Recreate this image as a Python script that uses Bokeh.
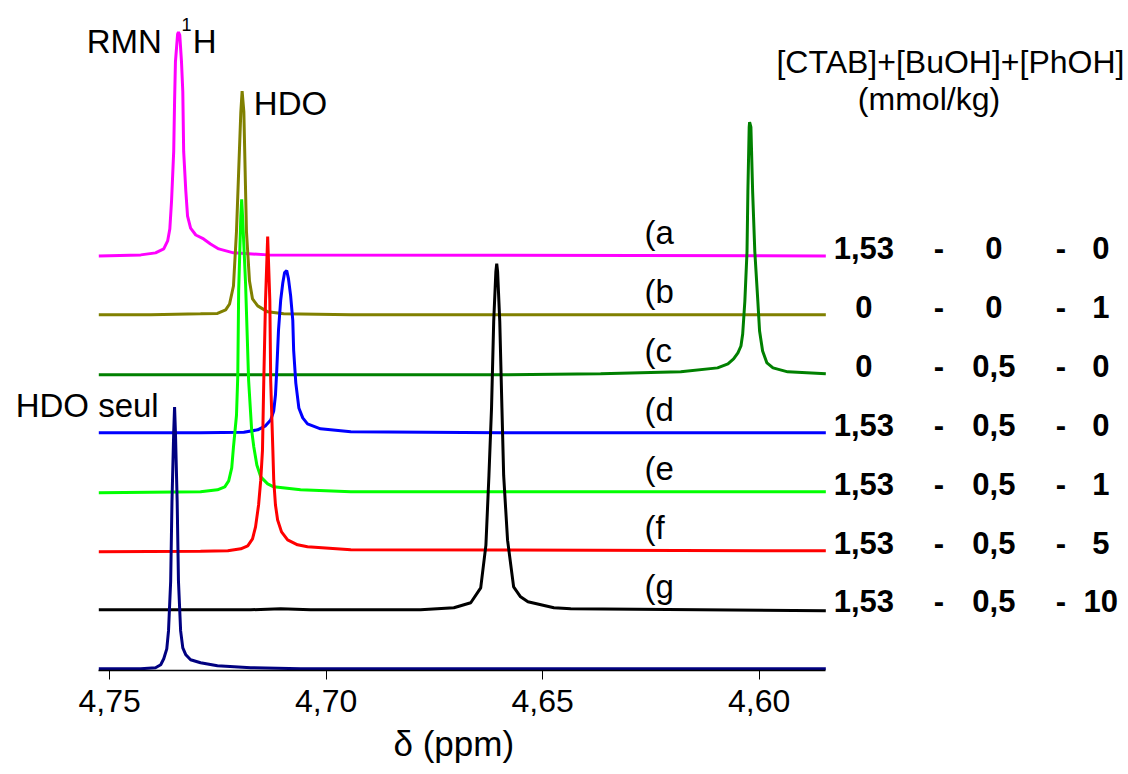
from bokeh.plotting import figure
from bokeh.models import Range1d, FixedTicker, CustomJSTickFormatter, Label, Title
from bokeh.embed import file_html
from bokeh.resources import INLINE

# ---- data (chemical shift in ppm, intensity in stacking units) ----
ppm_a = [4.7525, 4.7428, 4.7394, 4.7375, 4.7366, 4.7361, 4.7357, 4.7352, 4.7350, 4.7348, 4.7343, 4.7341,
         4.7338, 4.7334, 4.7331, 4.7329, 4.7324, 4.7320, 4.7313, 4.7301, 4.7283, 4.7267, 4.7248, 4.7214,
         4.7135, 4.5846]
int_a = [0.0, 0.017, 0.051, 0.118, 0.253, 0.455, 0.927, 1.771, 2.614, 3.288, 3.761, 3.794,
         3.744, 3.288, 2.782, 1.771, 1.096, 0.675, 0.472, 0.354, 0.287, 0.202, 0.118, 0.051,
         0.017, 0.0]

ppm_b = [4.7525, 4.7405, 4.7290, 4.7251, 4.7232, 4.7223, 4.7214, 4.7207, 4.7202, 4.7197, 4.7194, 4.7190,
         4.7187, 4.7184, 4.7177, 4.7170, 4.7158, 4.7135, 4.7098, 4.6943, 4.5846]
int_b = [0.0, 0.0, 0.017, 0.025, 0.084, 0.185, 0.489, 1.417, 2.428, 3.440, 3.794, 3.440,
         2.428, 1.417, 0.573, 0.270, 0.152, 0.051, 0.017, 0.0, 0.0]

ppm_c = [4.7525, 4.6597, 4.6366, 4.6181, 4.6096, 4.6072, 4.6059, 4.6049, 4.6042, 4.6038, 4.6033, 4.6028,
         4.6026, 4.6023, 4.6022, 4.6019, 4.6015, 4.6010, 4.6003, 4.5999, 4.5992, 4.5982, 4.5968, 4.5934,
         4.5846]
int_c = [-0.017, -0.017, 0.0, 0.034, 0.101, 0.169, 0.253, 0.354, 0.472, 0.675, 1.231, 2.074,
         3.086, 4.182, 4.266, 4.182, 3.086, 2.074, 1.231, 0.725, 0.388, 0.185, 0.101, 0.034,
         0.0]

ppm_d = [4.7525, 4.7290, 4.7190, 4.7158, 4.7140, 4.7128, 4.7121, 4.7117, 4.7114, 4.7110, 4.7105, 4.7100,
         4.7096, 4.7091, 4.7087, 4.7082, 4.7077, 4.7075, 4.7070, 4.7063, 4.7054, 4.7043, 4.7013, 4.6943,
         4.6597, 4.5846]
int_d = [0.0, 0.0, 0.008, 0.051, 0.118, 0.219, 0.371, 0.641, 1.062, 1.737, 2.243, 2.546,
         2.715, 2.749, 2.614, 2.327, 1.906, 1.400, 0.843, 0.422, 0.253, 0.152, 0.067, 0.017,
         0.0, 0.0]

ppm_e = [4.7525, 4.7290, 4.7251, 4.7234, 4.7225, 4.7218, 4.7214, 4.7207, 4.7204, 4.7202, 4.7197, 4.7195,
         4.7193, 4.7186, 4.7179, 4.7172, 4.7167, 4.7160, 4.7151, 4.7135, 4.7121, 4.7059, 4.6943, 4.5846]
int_e = [-0.017, 0.0, 0.034, 0.084, 0.185, 0.405, 0.759, 1.298, 1.973, 3.406, 4.671, 4.958,
         4.671, 3.524, 1.889, 1.046, 0.759, 0.455, 0.253, 0.135, 0.084, 0.034, 0.0, 0.0]

ppm_f = [4.7525, 4.7290, 4.7227, 4.7197, 4.7181, 4.7170, 4.7163, 4.7156, 4.7151, 4.7147, 4.7144, 4.7140,
         4.7135, 4.7130, 4.7128, 4.7123, 4.7121, 4.7117, 4.7112, 4.7103, 4.7089, 4.7066, 4.7043, 4.6943,
         4.5846]
int_f = [-0.017, -0.008, 0.0, 0.034, 0.084, 0.202, 0.405, 0.776, 1.197, 1.703, 2.884, 4.233,
         5.329, 4.233, 2.884, 1.703, 1.197, 0.776, 0.523, 0.320, 0.185, 0.101, 0.067, 0.017,
         0.0]

ppm_g = [4.7525, 4.7174, 4.7105, 4.7036, 4.6782, 4.6705, 4.6666, 4.6643, 4.6631, 4.6624, 4.6618, 4.6613,
         4.6608, 4.6606, 4.6604, 4.6599, 4.6594, 4.6590, 4.6581, 4.6567, 4.6551, 4.6534, 4.6474, 4.6435,
         4.5846]
int_g = [0.0, 0.0, 0.017, 0.0, 0.0, 0.034, 0.118, 0.371, 1.096, 2.277, 3.423, 4.890,
         5.734, 5.868, 5.734, 4.890, 3.423, 2.277, 1.180, 0.388, 0.219, 0.135, 0.034, 0.017,
         -0.017]

ppm_seul = [4.7525, 4.7428, 4.7394, 4.7382, 4.7375, 4.7368, 4.7364, 4.7359, 4.7356, 4.7352, 4.7350, 4.7348,
            4.7344, 4.7341, 4.7336, 4.7331, 4.7324, 4.7313, 4.7290, 4.7251, 4.7174, 4.7059, 4.5846]
int_seul = [0.0, 0.0, 0.017, 0.067, 0.169, 0.337, 0.641, 1.484, 2.833, 4.013, 4.435, 4.013,
            2.833, 1.484, 0.641, 0.354, 0.236, 0.152, 0.101, 0.051, 0.017, 0.0, 0.0]

letters = ["(a", "(b", "(c", "(d", "(e", "(f", "(g"]
offsets = [7, 6, 5, 4, 3, 2, 1]
colors = ["#FF00FF", "#808000", "#008000", "#0000FF", "#00FF00", "#FF0000", "#000000"]
ctab = ["1,53", "0", "0", "1,53", "1,53", "1,53", "1,53"]
buoh = ["0", "0", "0,5", "0,5", "0,5", "0,5", "0,5"]
phoh = ["0", "1", "0", "0", "1", "5", "10"]
seul_offset = 0
seul_color = "#000080"
ticks = [4.75, 4.70, 4.65, 4.60]
spectrum_bounds = (4.5846, 4.7525)

spectra_ppm = [ppm_a, ppm_b, ppm_c, ppm_d, ppm_e, ppm_f, ppm_g]
spectra_int = [int_a, int_b, int_c, int_d, int_e, int_f, int_g]

FONT = "Liberation Sans"

p = figure(width=1128, height=774, output_backend="svg", toolbar_location=None,
           x_range=Range1d(4.7752, 4.5147), y_range=Range1d(-0.03, 11.33),
           y_axis_location=None,
           min_border_left=0, min_border_right=0, min_border_top=0, min_border_bottom=104)
p.outline_line_color = None
p.xgrid.visible = False
p.ygrid.visible = False
p.background_fill_color = "white"
p.border_fill_color = "white"

for xs, ys, off, col in zip(spectra_ppm, spectra_int, offsets, colors):
    p.line(xs, [v + off for v in ys], line_color=col, line_width=3)
p.line(ppm_seul, [v + seul_offset for v in int_seul], line_color=seul_color, line_width=3)

ax = p.xaxis[0]
ax.bounds = spectrum_bounds
ax.ticker = FixedTicker(ticks=ticks)
ax.formatter = CustomJSTickFormatter(code="return tick.toFixed(2).replace('.', ',');")
ax.major_tick_in = 0
ax.major_tick_out = 9
ax.minor_tick_in = 0
ax.minor_tick_out = 0
ax.axis_line_width = 1.3
ax.axis_line_color = "black"
ax.major_tick_line_color = "black"
ax.major_label_text_font = FONT
ax.major_label_text_font_size = "32px"
ax.major_label_text_color = "black"
ax.major_label_standoff = 10

p.add_layout(Title(text="δ (ppm)", align="left", offset=393, standoff=14,
                   text_font=FONT, text_font_size="35px", text_font_style="normal",
                   text_color="black"), "below")

def lab(x, y, text, size, style="normal", align="left"):
    p.add_layout(Label(x=x, y=y, text=text, text_font=FONT, text_font_size=size,
                       text_font_style=style, text_align=align, text_baseline="alphabetic",
                       text_color="black"))

# titles and peak annotations
lab(4.7553, 10.63, "RMN", "33px")
lab(4.7334, 10.93, "1", "18px")
lab(4.7308, 10.63, "H", "33px")
lab(4.7167, 9.58, "HDO", "33px")
lab(4.7717, 4.463, "HDO seul", "33px")
lab(4.5960, 10.28, "[CTAB]+[BuOH]+[PhOH]", "32px")
lab(4.5772, 9.66, "(mmol/kg)", "32px")

col1_x, dash1_x, col2_x, dash2_x, col3_x = 4.5758, 4.5585, 4.5458, 4.5303, 4.5211
for let, off, c1, c2, c3 in zip(letters, offsets, ctab, buoh, phoh):
    lab(4.6265, off + 0.39, let, "33px")
    yb = off + 0.14
    lab(col1_x, yb, c1, "31px", "bold", "center")
    lab(dash1_x, yb, "-", "31px", "bold", "center")
    lab(col2_x, yb, c2, "31px", "bold", "center")
    lab(dash2_x, yb, "-", "31px", "bold", "center")
    lab(col3_x, yb, c3, "31px", "bold", "center")

open("out.html", "w").write(file_html(p, INLINE))
